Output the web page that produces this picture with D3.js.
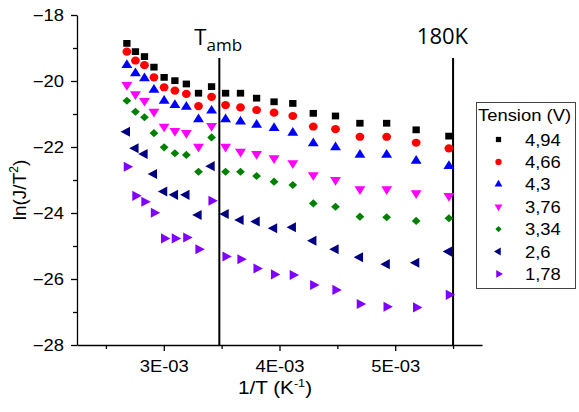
<!DOCTYPE html>
<html>
<head>
<meta charset="utf-8">
<script src="https://cdn.jsdelivr.net/npm/d3@7"></script>
<style>
  html, body { margin: 0; padding: 0; background: #fff; }
  svg { display: block; }
</style>
</head>
<body>
<svg id="chart" width="579" height="412"></svg>
<script>
// ---------------- data ----------------
const invT = [0.002681, 0.002755, 0.002833, 0.002915, 0.003003, 0.003096, 0.003195, 0.003300, 0.003413, 0.003534,
              0.003663, 0.003802, 0.003953, 0.004115, 0.004292, 0.004484, 0.004695, 0.004926, 0.005181, 0.005464];

const v494 = [-18.86, -19.11, -19.26, -19.58, -19.89, -19.99, -20.09, -20.37, -20.17, -20.37,
              -20.37, -20.52, -20.63, -20.68, -20.98, -21.06, -21.28, -21.28, -21.48, -21.67];
const v466 = [-19.11, -19.38, -19.52, -19.89, -20.19, -20.29, -20.39, -20.76, -20.48, -20.73,
              -20.80, -20.88, -20.96, -21.06, -21.38, -21.46, -21.69, -21.69, -21.87, -22.04];
const v430 = [-19.52, -19.77, -19.92, -20.27, -20.60, -20.73, -20.78, -21.16, -20.90, -21.16,
              -21.23, -21.33, -21.43, -21.57, -21.89, -22.01, -22.24, -22.24, -22.42, -22.58];
const v376 = [-20.12, -20.40, -20.60, -20.93, -21.38, -21.51, -21.57, -21.99, -21.36, -21.99,
              -22.14, -22.21, -22.34, -22.49, -22.85, -23.00, -23.28, -23.28, -23.40, -23.48];
const v334 = [-20.60, -20.93, -21.10, -21.58, -22.01, -22.19, -22.24, -22.75, -21.71, -22.75,
              -22.75, -22.88, -23.05, -23.15, -23.71, -23.81, -24.11, -24.13, -24.24, -24.16];
const v260 = [-21.54, -22.04, -22.21, -22.82, -23.35, -23.45, -23.45, -24.06, -22.58, -24.03,
              -24.21, -24.26, -24.46, -24.43, -24.84, -25.10, -25.34, -25.55, -25.51, -25.17];
const v178 = [-22.60, -23.48, -23.66, -23.99, -24.77, -24.77, -24.74, -25.10, -23.63, -25.32,
              -25.40, -25.68, -25.86, -25.88, -26.18, -26.33, -26.76, -26.84, -26.86, -26.48];

const seriesNames  = ["4,94", "4,66", "4,3", "3,76", "3,34", "2,6", "1,78"];
const seriesValues = [v494, v466, v430, v376, v334, v260, v178];
const seriesColors = ["#000000", "#ff0000", "#0000ff", "#ff00ff", "#008000", "#000080", "#8000ff"];
const seriesShapes = ["square", "circle", "up", "down", "diamond", "left", "right"];

const yMajorTicks = [-18, -20, -22, -24, -26, -28];
const yMinorTicks = [-19, -21, -23, -25, -27];
const xMajorTicks = [0.003, 0.004, 0.005];
const xMajorLabels = ["3E-03", "4E-03", "5E-03"];
const xMinorTicks = [0.0025, 0.0035, 0.0045, 0.0055];

const refLines = [{ x: 0.00348, main: "T", sub: "amb" }, { x: 0.0055, main: "180K", sub: "" }];
const refTop = -19.3;
const legendTitle = "Tension (V)";

// ---------------- layout ----------------
const svg = d3.select("#chart");
const mLeft = 77, mRight = 482, mTop = 15, mBottom = 345;
const STRETCH = 1.15;
const FONT = "'Liberation Sans', Arial, sans-serif";
const FONT2 = "'Open Sans', 'Liberation Sans', sans-serif";

const x = d3.scaleLinear().domain([0.00225, 0.00575]).range([mLeft, mRight]);
const y = d3.scaleLinear().domain([-28, -18]).range([mBottom, mTop]);

function symbolFor(shape, size) {
  const t = { square: d3.symbolSquare, circle: d3.symbolCircle, up: d3.symbolTriangle,
              down: d3.symbolTriangle, diamond: d3.symbolDiamond2, left: d3.symbolTriangle,
              right: d3.symbolTriangle }[shape];
  return d3.symbol().type(t).size(size)();
}
function rotFor(shape) {
  return { down: 180, left: -90, right: 90 }[shape] || 0;
}

// ---------------- axes ----------------
const yAxis = svg.append("g").attr("transform", `translate(${mLeft},0)`)
  .call(d3.axisLeft(y).tickValues(yMajorTicks).tickSize(6).tickSizeOuter(0).tickFormat(d3.format("d")));
yAxis.selectAll("text")
  .attr("x", null).attr("dy", null)
  .attr("transform", `translate(-13,5.5) scale(${STRETCH},1)`)
  .style("font-family", FONT).style("font-size", "16px").attr("fill", "#000");
svg.append("g").attr("transform", `translate(${mLeft},0)`)
  .call(d3.axisLeft(y).tickValues(yMinorTicks).tickSize(4).tickSizeOuter(0).tickFormat(""))
  .select(".domain").remove();

const xAxis = svg.append("g").attr("transform", `translate(0,${mBottom})`)
  .call(d3.axisBottom(x).tickValues(xMajorTicks).tickSize(6).tickSizeOuter(0)
    .tickFormat((d, i) => xMajorLabels[i]));
xAxis.selectAll("text")
  .attr("y", null).attr("dy", null)
  .attr("transform", `translate(0,27) scale(${STRETCH},1)`)
  .style("font-family", FONT).style("font-size", "16px").attr("fill", "#000");
svg.append("g").attr("transform", `translate(0,${mBottom})`)
  .call(d3.axisBottom(x).tickValues(xMinorTicks).tickSize(4).tickSizeOuter(0).tickFormat(""))
  .select(".domain").remove();

svg.selectAll(".domain, .tick line").attr("stroke", "#000").attr("stroke-width", 1.3);

// axis titles
const yt = svg.append("text")
  .attr("transform", `translate(26,190) rotate(-90)`)
  .attr("text-anchor", "middle")
  .style("font-family", FONT).style("font-size", "19px").attr("fill", "#000");
yt.append("tspan").text("ln(J/T");
yt.append("tspan").text("2").style("font-size", "12px").attr("dy", "-8");
yt.append("tspan").text(")").attr("dy", "8");

const xt = svg.append("text")
  .attr("transform", `translate(275,394) scale(${STRETCH},1)`)
  .attr("text-anchor", "middle")
  .style("font-family", FONT).style("font-size", "18px").attr("fill", "#000");
xt.append("tspan").text("1/T (K");
xt.append("tspan").text("-1").style("font-size", "11px").attr("dy", "-7");
xt.append("tspan").text(")").attr("dy", "7");

// ---------------- reference lines ----------------
refLines.forEach((r, i) => {
  svg.append("line")
    .attr("x1", x(r.x)).attr("x2", x(r.x))
    .attr("y1", y(refTop)).attr("y2", y(-28))
    .attr("stroke", "#000").attr("stroke-width", 2);
  const t = svg.append("text")
    .style("font-family", FONT2).style("font-size", "22px").attr("fill", "#000");
  if (i === 0) {
    t.attr("x", x(r.x) - 25).attr("y", 45).attr("text-anchor", "start");
    t.append("tspan").text(r.main);
    t.append("tspan").text(r.sub).style("font-size", "17px").attr("dy", "6");
  } else {
    t.attr("x", x(r.x) + 15).attr("y", 44).attr("text-anchor", "end").text(r.main);
  }
});

// ---------------- points ----------------
const sizes = { square: 46, circle: 52, up: 44, down: 44, diamond: 42, left: 44, right: 44 };
seriesValues.forEach((vals, si) => {
  const shape = seriesShapes[si];
  svg.append("g").selectAll("path")
    .data(vals.map((v, i) => [invT[i], v]))
    .join("path")
    .attr("d", symbolFor(shape, sizes[shape]))
    .attr("transform", d => `translate(${x(d[0])},${y(d[1])}) scale(1.08,1) rotate(${rotFor(shape)})`)
    .attr("fill", seriesColors[si]);
});

// ---------------- legend ----------------
const lg = svg.append("g");
lg.append("rect").attr("x", 476.5).attr("y", 102.5).attr("width", 99).attr("height", 186)
  .attr("fill", "#fff").attr("stroke", "#444").attr("stroke-width", 1);
lg.append("text").text(legendTitle)
  .attr("transform", `translate(478,121) scale(${STRETCH},1)`)
  .style("font-family", FONT).style("font-size", "16px").attr("fill", "#000");
seriesNames.forEach((name, i) => {
  const cy = 139.5 + i * 22.4;
  const shape = seriesShapes[i];
  lg.append("path")
    .attr("d", symbolFor(shape, sizes[shape] * 0.6))
    .attr("transform", `translate(498.5,${cy}) rotate(${rotFor(shape)})`)
    .attr("fill", seriesColors[i]);
  lg.append("text").text(name)
    .attr("transform", `translate(525,${cy + 6}) scale(${STRETCH},1)`)
    .style("font-family", FONT).style("font-size", "16px").attr("fill", "#000");
});
</script>
</body>
</html>
